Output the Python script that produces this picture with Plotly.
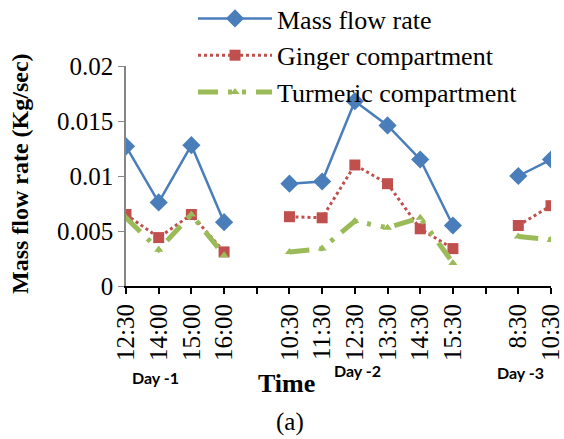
import plotly.graph_objects as go

# Sampling times over three days; blank slots separate the days
time_labels = ["12:30", "14:00", "15:00", "16:00", "",
               "10:30", "11:30", "12:30", "13:30", "14:30", "15:30", "",
               "8:30", "10:30"]

mass_flow = [0.0127, 0.0076, 0.0128, 0.0058, None,
             0.0093, 0.0095, 0.0168, 0.0146, 0.0115, 0.0055, None,
             0.0100, 0.0115]
ginger = [0.0065, 0.0044, 0.0065, 0.0031, None,
          0.0063, 0.0062, 0.0110, 0.0093, 0.0052, 0.0034, None,
          0.0055, 0.0073]
turmeric = [0.0062, 0.0033, 0.0065, 0.0028, None,
            0.0031, 0.0034, 0.0059, 0.0053, 0.0062, 0.0021, None,
            0.0045, 0.0042]

y_ticks = [0, 0.005, 0.01, 0.015, 0.02]
y_ticktext = ["0", "0.005", "0.01", "0.015", "0.02"]

x = list(range(len(time_labels)))

SERIF = "Liberation Serif"

fig = go.Figure()
fig.add_trace(go.Scatter(
    x=x, y=mass_flow, name="Mass flow rate", mode="lines+markers",
    line=dict(color="#4A7EBB", width=2.5),
    marker=dict(symbol="diamond", size=14, color="#4A7EBB"),
    connectgaps=False))
fig.add_trace(go.Scatter(
    x=x, y=ginger, name="Ginger compartment", mode="lines+markers",
    line=dict(color="#C0504D", width=3, dash="dot"),
    marker=dict(symbol="square", size=11, color="#C0504D"),
    connectgaps=False))
fig.add_trace(go.Scatter(
    x=x, y=turmeric, name="Turmeric compartment", mode="lines+markers",
    line=dict(color="#9BBB59", width=5, dash="20px,10px,4px,10px,4px,10px"),
    marker=dict(symbol="triangle-up", size=8, color="#9BBB59"),
    connectgaps=False))

L, R, T, B = 126, 13, 66, 153
W, H = 564, 439
pw, ph = W - L - R, H - T - B


def px(xp):
    return (xp - L) / pw


def py(yp):
    return (H - B - yp) / ph


annotations = [
    dict(text="<b>Mass flow rate (Kg/sec)</b>", x=px(20), y=py(174), textangle=-90,
         font=dict(family=SERIF, size=24, color="black")),
    dict(text="<b>Time</b>", x=px(286), y=py(383),
         font=dict(family=SERIF, size=26, color="black")),
    dict(text="(a)", x=px(290), y=py(422),
         font=dict(family=SERIF, size=25, color="black")),
    dict(text="<b>Day -1</b>", x=px(155), y=py(377),
         font=dict(family="Lato", size=16, color="black")),
    dict(text="<b>Day -2</b>", x=px(357), y=py(370),
         font=dict(family="Lato", size=16, color="black")),
    dict(text="<b>Day -3</b>", x=px(520), y=py(372),
         font=dict(family="Lato", size=16, color="black")),
]
for a in annotations:
    a.update(xref="paper", yref="paper", showarrow=False,
             xanchor="center", yanchor="middle")

fig.update_layout(
    width=W, height=H,
    margin=dict(l=L, r=R, t=T, b=B, pad=0, autoexpand=False),
    paper_bgcolor="white", plot_bgcolor="white",
    font=dict(family=SERIF, size=25, color="black"),
    showlegend=True,
    legend=dict(x=px(193), y=py(-5), xanchor="left", yanchor="top",
                bgcolor="rgba(0,0,0,0)",
                font=dict(family=SERIF, size=26, color="black"),
                tracegroupgap=0, itemwidth=74),
    annotations=annotations,
)
fig.update_xaxes(
    range=[0, len(time_labels) - 1], tickmode="array", tickvals=x,
    ticktext=time_labels, tickangle=-90, showgrid=False, zeroline=False,
    showline=True, linecolor="black", linewidth=2,
    ticks="outside", ticklen=6, tickwidth=1.5, tickcolor="black",
    ticklabeloverflow="allow",
    tickfont=dict(family=SERIF, size=25, color="black"))
fig.update_yaxes(
    range=[0, 0.02], tickmode="array", tickvals=y_ticks, ticktext=y_ticktext,
    showgrid=False, zeroline=False, showline=True, linecolor="#868686",
    linewidth=1.5, ticks="outside", ticklen=6, tickcolor="#868686",
    tickfont=dict(family=SERIF, size=25, color="black"))

fig.write_html("out.html")
